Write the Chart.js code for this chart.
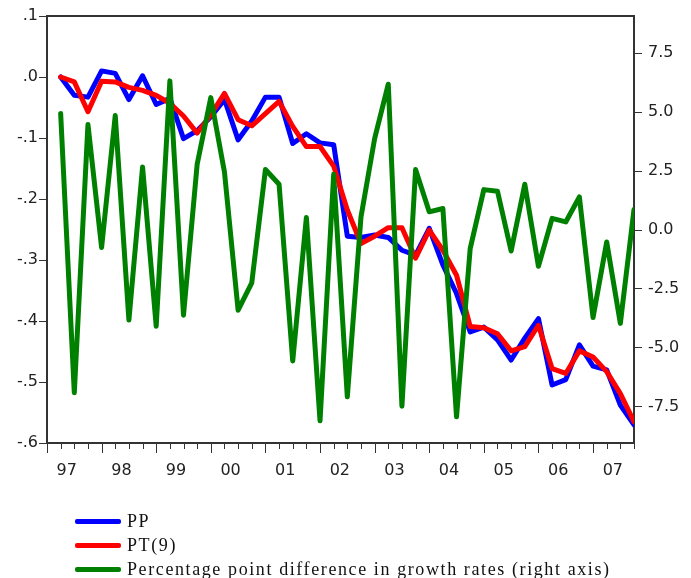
<!DOCTYPE html>
<html>
<head>
<meta charset="utf-8">
<script src="https://cdn.jsdelivr.net/npm/chart.js@4.4.0/dist/chart.umd.min.js"></script>
<style>
  html, body { margin: 0; padding: 0; background: #fff; }
  #wrap { position: relative; width: 691px; height: 578px; }
  #legend { position: absolute; left: 75px; top: 509px; font-family: "Liberation Serif", serif; font-size: 18px; letter-spacing: 1.6px; color: #111; }
  .item { display: flex; align-items: center; height: 24px; }
  .sw { width: 46px; height: 5px; margin-right: 6px; border-radius: 2px; }
</style>
</head>
<body>
<div id="wrap">
  <canvas id="chart" width="691" height="578"></canvas>
  <div id="legend"></div>
</div>
<script>
// Trimestres 1997Q1 - 2007Q3
const years = ["97", "98", "99", "00", "01", "02", "03", "04", "05", "06", "07"];

const pp = [0.000, -0.030, -0.033, 0.010, 0.006, -0.037, 0.002, -0.045, -0.035, -0.101,
  -0.088, -0.065, -0.037, -0.103, -0.072, -0.033, -0.033, -0.109, -0.093, -0.108,
  -0.111, -0.261, -0.263, -0.259, -0.263, -0.284, -0.292, -0.248, -0.308, -0.355,
  -0.418, -0.410, -0.431, -0.464, -0.428, -0.396, -0.505, -0.496, -0.439, -0.474,
  -0.480, -0.538, -0.570];

const pt9 = [0.000, -0.008, -0.057, -0.007, -0.008, -0.017, -0.022, -0.030, -0.043, -0.064,
  -0.092, -0.062, -0.027, -0.070, -0.080, -0.060, -0.040, -0.081, -0.114, -0.114,
  -0.146, -0.218, -0.273, -0.261, -0.247, -0.247, -0.297, -0.251, -0.284, -0.325,
  -0.409, -0.411, -0.421, -0.449, -0.442, -0.407, -0.478, -0.486, -0.449, -0.459,
  -0.483, -0.519, -0.565];

const diff = [4.92, -6.92, 4.45, -0.76, 4.83, -3.84, 2.65, -4.10, 6.30, -3.63,
  2.77, 5.59, 2.44, -3.42, -2.26, 2.54, 1.92, -5.57, 0.51, -8.11,
  2.34, -7.09, 0.53, 3.85, 6.16, -7.49, 2.54, 0.75, 0.89, -7.94,
  -0.81, 1.69, 1.62, -0.91, 1.92, -1.56, 0.47, 0.32, 1.38, -3.73,
  -0.53, -3.98, 0.85];

const leftTicks = [-0.6, -0.5, -0.4, -0.3, -0.2, -0.1, 0.0, 0.1];
const rightTicks = [-7.5, -5.0, -2.5, 0.0, 2.5, 5.0, 7.5];

const series = [
  { label: "PP", values: pp, color: "#0000ff", axis: "y", order: 2 },
  { label: "PT(9)", values: pt9, color: "#ff0000", axis: "y", order: 1 },
  { label: "Percentage point difference in growth rates (right axis)", values: diff, color: "#008000", axis: "y2", order: 0 }
];

const tickFont = { family: "DejaVu Sans", size: 16 };
const axisColor = "#333";

function fmtLeft(v) {
  if (Math.abs(v) < 1e-9) return ".0";
  return v.toFixed(1).replace("0.", ".");
}

// ancho fijo de eje vertical, sin relleno extra arriba/abajo
function fixY(width) {
  return s => {
    s.width = width;
    s.paddingTop = 0;
    s.paddingBottom = 0;
  };
}

// marcas de ejes (menores/mayores) y borde superior
const tickMarks = {
  id: "tickMarks",
  afterDraw(chart) {
    const { ctx, chartArea: a, scales } = chart;
    ctx.save();
    ctx.strokeStyle = axisColor;
    ctx.lineWidth = 1;
    ctx.beginPath();
    for (let q = 0; q <= 43; q++) {
      const x = Math.round(scales.x.getPixelForValue(q)) + 0.5;
      ctx.moveTo(x, a.bottom);
      ctx.lineTo(x, a.bottom + (q % 4 === 0 ? 10 : 6));
    }
    leftTicks.forEach(v => {
      const y = Math.round(scales.y.getPixelForValue(v)) + 0.5;
      ctx.moveTo(a.left - 8, y);
      ctx.lineTo(a.left, y);
    });
    rightTicks.forEach(v => {
      const y = Math.round(scales.y2.getPixelForValue(v)) + 0.5;
      ctx.moveTo(a.right, y);
      ctx.lineTo(a.right + 8, y);
    });
    ctx.stroke();
    ctx.lineWidth = 2;
    ctx.beginPath();
    ctx.moveTo(a.left - 1, a.top);
    ctx.lineTo(a.right + 1, a.top);
    ctx.stroke();
    ctx.restore();
  }
};

new Chart(document.getElementById("chart"), {
  type: "line",
  data: {
    datasets: series.map(s => ({
      label: s.label,
      data: s.values.map((v, i) => ({ x: i + 1, y: v })),
      borderColor: s.color,
      backgroundColor: s.color,
      borderWidth: 5,
      borderJoinStyle: "round",
      borderCapStyle: "round",
      pointRadius: 0,
      tension: 0,
      yAxisID: s.axis,
      order: s.order
    }))
  },
  options: {
    responsive: false,
    animation: false,
    layout: { padding: { top: 16, left: 0, right: 0, bottom: 0 } },
    plugins: { legend: { display: false }, tooltip: { enabled: false } },
    scales: {
      x: {
        type: "linear",
        min: 0,
        max: 43,
        afterBuildTicks: s => { s.ticks = years.map((_, k) => ({ value: 4 * k + 1.45 })); },
        afterFit: s => { s.height = 135; s.paddingLeft = 0; s.paddingRight = 0; },
        grid: { display: false },
        border: { display: true, color: axisColor, width: 2 },
        ticks: {
          autoSkip: false, maxRotation: 0, padding: 10,
          font: tickFont, color: "#222",
          callback: (v, i) => years[i]
        }
      },
      y: {
        position: "left",
        min: -0.6,
        max: 0.1,
        afterBuildTicks: s => { s.ticks = leftTicks.map(v => ({ value: v })); },
        afterFit: fixY(47),
        grid: { display: false },
        border: { display: true, color: axisColor, width: 2 },
        ticks: { padding: 1, font: tickFont, color: "#222", callback: v => fmtLeft(v) }
      },
      y2: {
        position: "right",
        min: -9.05,
        max: 9.05,
        afterBuildTicks: s => { s.ticks = rightTicks.map(v => ({ value: v })); },
        afterFit: fixY(57),
        grid: { display: false },
        border: { display: true, color: axisColor, width: 2 },
        ticks: { padding: 6, font: tickFont, color: "#222", callback: v => v.toFixed(1) }
      }
    }
  },
  plugins: [tickMarks]
});

// leyenda
const legend = document.getElementById("legend");
series.forEach(s => {
  const item = document.createElement("div");
  item.className = "item";
  item.innerHTML = '<span class="sw" style="background:' + s.color + '"></span><span>' + s.label + "</span>";
  legend.appendChild(item);
});
</script>
</body>
</html>
